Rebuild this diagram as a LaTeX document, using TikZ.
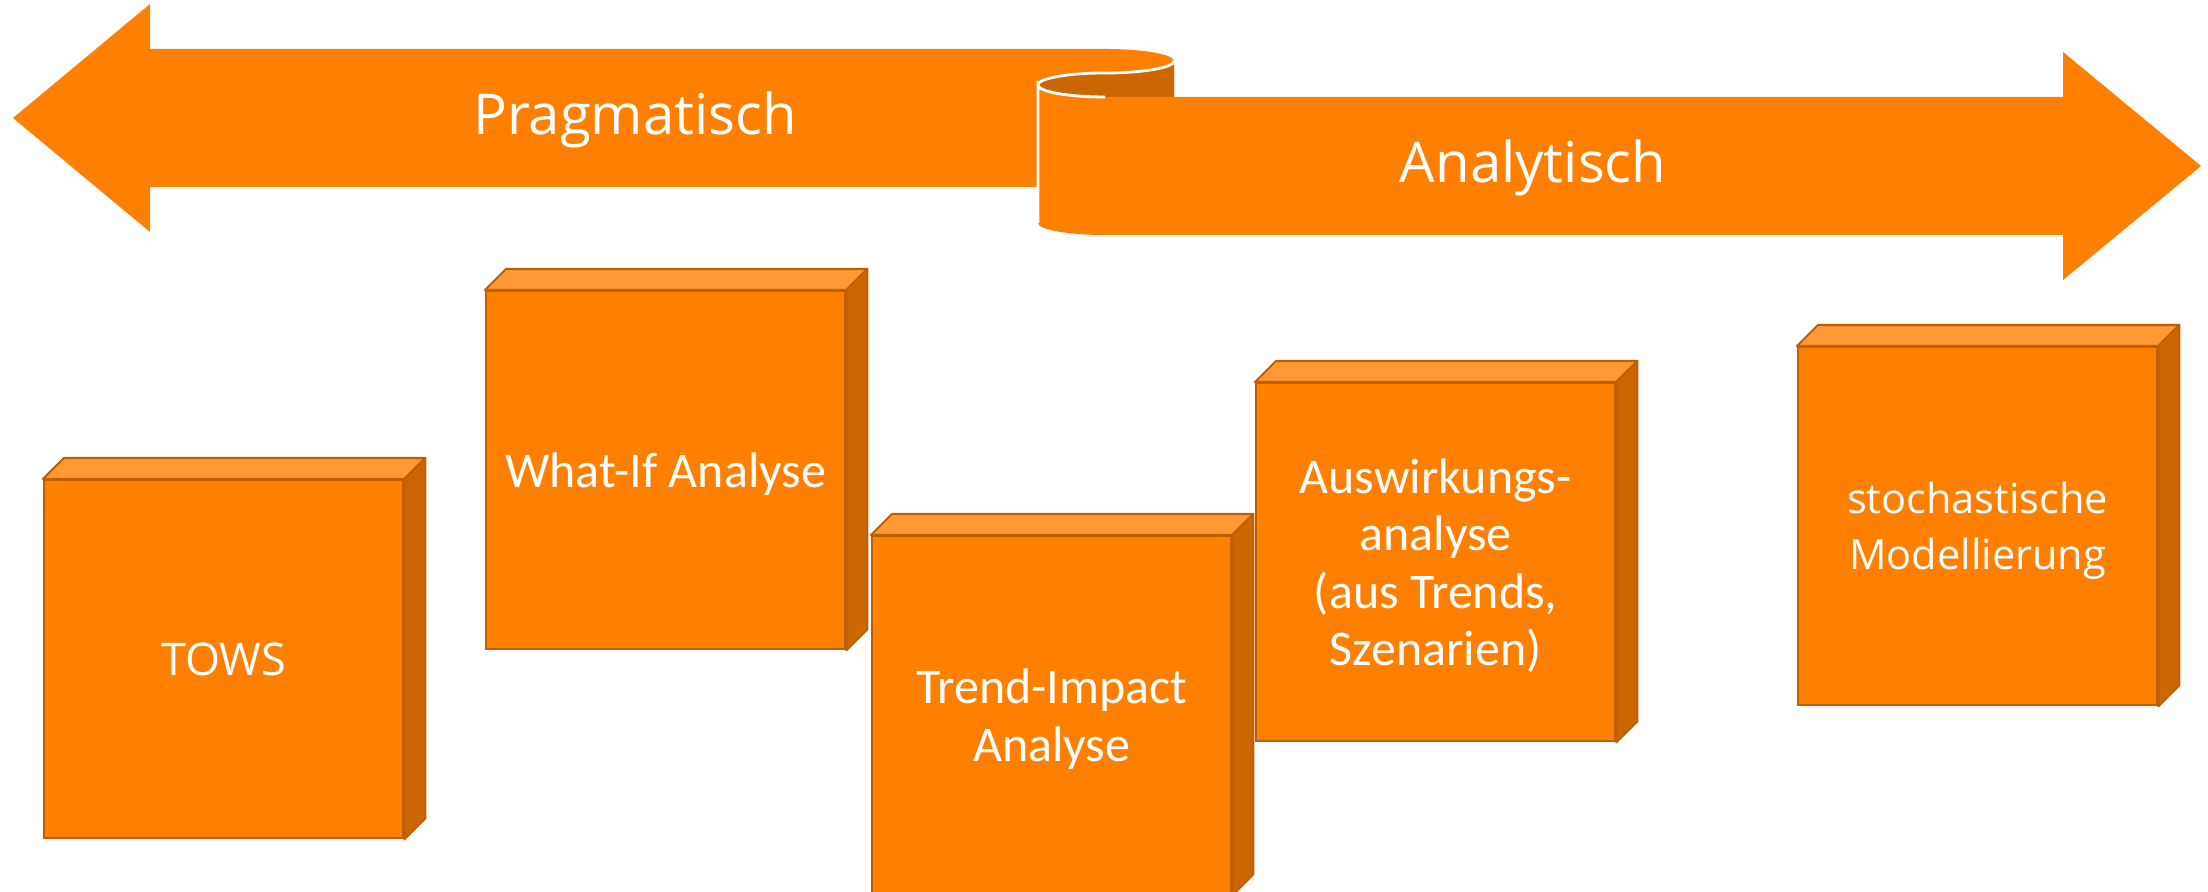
\documentclass[tikz,border=0pt]{standalone}
\usepackage{fontspec}
\setmainfont{Open Sans}
\newfontfamily\calibrifont{Carlito}
\usetikzlibrary{calc}

\definecolor{pporange}{HTML}{FF8000}
\definecolor{pptop}{HTML}{FF9933}
\definecolor{ppside}{HTML}{CC6600}
\definecolor{ppline}{HTML}{C05F00}

\tikzset{
  cube/.style={draw=ppline, fill=pporange, line width=0.6pt, anchor=north west,
    minimum width=3.59cm, minimum height=3.58cm, inner sep=0pt,
    text=white, align=center, text depth=0pt},
  cubetop/.style={draw=ppline, fill=pptop, line width=0.6pt, line join=round},
  cubeside/.style={draw=ppline, fill=ppside, line width=0.6pt, line join=round},
  arrowtext/.style={text=white, anchor=base, font=\fontsize{16}{19}\selectfont},
  calibritext/.style={font=\calibrifont\fontsize{14.2}{16.3}\selectfont},
}

\begin{document}
\begin{tikzpicture}[x=0.01cm, y=-0.01cm]
    \useasboundingbox (0,0) rectangle (2208,892);

    % left arrow, its end rolls over into the right one
    \fill[pporange] (13,118) -- (150,4) -- (150,49) -- (1105,49)
      arc[start angle=90, end angle=0, x radius=0.69cm, y radius=0.12cm]
      -- (1174,97) -- (1038,97) -- (1038,187) -- (150,187) -- (150,232) -- cycle;

    \fill[ppside] (1038,85)
      arc[start angle=180, end angle=90, x radius=0.67cm, y radius=0.12cm]
      arc[start angle=270, end angle=360, x radius=0.69cm, y radius=0.12cm]
      -- (1174,97) -- (1105,97)
      arc[start angle=270, end angle=180, x radius=0.67cm, y radius=0.12cm] -- cycle;

    % right arrow
    \fill[pporange] (1038,85)
      arc[start angle=180, end angle=270, x radius=0.67cm, y radius=0.12cm]
      -- (2063,97) -- (2063,52) -- (2201,166) -- (2063,280) -- (2063,235) -- (1105,235)
      arc[start angle=270, end angle=180, x radius=0.67cm, y radius=0.12cm] -- cycle;

    \draw[white, line width=0.8pt] (1038,223) -- (1038,85)
      arc[start angle=180, end angle=270, x radius=0.67cm, y radius=0.12cm];
    \draw[white, line width=0.8pt] (1038,85)
      arc[start angle=180, end angle=90, x radius=0.67cm, y radius=0.12cm]
      arc[start angle=270, end angle=360, x radius=0.69cm, y radius=0.12cm];

    \node[arrowtext] (prag) at (635,135) {Pragmatisch};
    \node[arrowtext] (analyt) at (1533,183) {Analytisch};

    % the blocks
    \node[cube, font=\fontsize{12.8}{15}\selectfont] (tows) at (43,479) {TOWS};
    \node[cube, calibritext] (whatif) at (485,290) {What-If Analyse};
    \node[cube, calibritext] (trend) at (871,535) {Trend-Impact\\Analyse};
    \node[cube, calibritext] (auswirk) at (1255,382)
      {Auswirkungs-\\analyse\\(aus Trends,\\Szenarien)};
    \node[cube, font=\fontsize{11.8}{15.9}\selectfont] (stoch) at (1797,346)
      {stochastische\\Modellierung};

    \foreach \n in {tows,whatif,trend,auswirk,stoch} {
      \draw[cubetop] (\n.north west) -- ++(21,-21) -- ($(\n.north east)+(21,-21)$)
        -- (\n.north east) -- cycle;
      \draw[cubeside] (\n.north east) -- ++(21,-21) -- ($(\n.south east)+(21,-21)$)
        -- (\n.south east) -- cycle;
    }
\end{tikzpicture}
\end{document}
